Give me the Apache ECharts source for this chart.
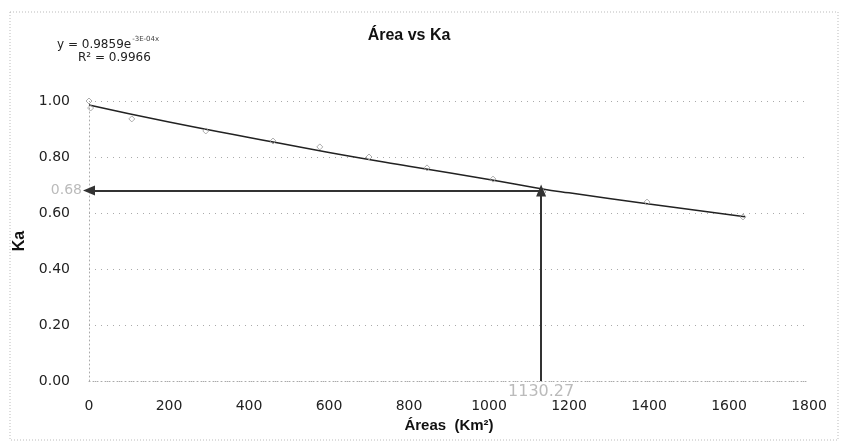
<!DOCTYPE html>
<html><head><meta charset="utf-8">
<script src="https://cdn.jsdelivr.net/npm/echarts@6/dist/echarts.min.js"></script>
<style>html,body{margin:0;padding:0;background:#fff}#c{width:845px;height:445px}</style>
</head><body><div id="c"></div>
<script>
// Observed data points (Área km², Ka)
const areas = [0, 4, 107, 292, 460, 577, 700, 845, 1010, 1135, 1395, 1635];
const kaValues = [1.00, 0.975, 0.936, 0.893, 0.857, 0.836, 0.800, 0.761, 0.721, 0.675, 0.639, 0.586];
// Exponential trend line
const trendX = [0, 200, 400, 600, 800, 1000, 1130.27, 1200, 1400, 1640];
const trendY = [0.986, 0.925, 0.870, 0.816, 0.767, 0.720, 0.687, 0.672, 0.632, 0.587];
// Reading arrows
const readX = 1130.27;
const readY = 0.68;
const xTicks = [0, 200, 400, 600, 800, 1000, 1200, 1400, 1600, 1800];
const yTicks = [0, 0.2, 0.4, 0.6, 0.8, 1.0];

const chart = echarts.init(document.getElementById('c'));
const tickFont = {fontFamily: 'DejaVu Sans', fontSize: 14, color: '#222'};
chart.setOption({
  animation: false,
  backgroundColor: '#fff',
  title: {
    text: 'Área vs Ka', left: 404, top: 23, textAlign: 'center',
    textStyle: {fontFamily: 'Liberation Sans', fontWeight: 'bold', fontSize: 16, color: '#111'}
  },
  graphic: [
    {type: 'rect', shape: {x: 10, y: 12, width: 828, height: 428}, silent: true,
     style: {fill: 'none', stroke: '#bbb', lineWidth: 1, lineDash: [1, 2]}},
    {type: 'text', left: 57, top: 36, style: {
      text: '{a|y = 0.9859e}{s|-3E-04x}', rich: {
        a: {fontFamily: 'DejaVu Sans', fontSize: 12, fill: '#222', verticalAlign: 'bottom'},
        s: {fontFamily: 'DejaVu Sans', fontSize: 7, fill: '#444', verticalAlign: 'top', padding: [0,0,8,1]}
      }}},
    {type: 'text', left: 78, top: 52, style: {
      text: 'R² = 0.9966', fontFamily: 'DejaVu Sans', fontSize: 12, fill: '#222'}}
  ],
  grid: {left: 89, right: 36, top: 101, bottom: 64},
  xAxis: {
    type: 'value', min: 0, max: 1800, interval: 200,
    name: 'Áreas  (Km²)', nameLocation: 'middle', nameGap: 26,
    nameTextStyle: {fontFamily: 'Liberation Sans', fontWeight: 'bold', fontSize: 15, color: '#111'},
    axisLine: {lineStyle: {color: '#aaa', type: [1, 3]}},
    axisTick: {show: false},
    splitLine: {show: false},
    axisLabel: Object.assign({margin: 18, formatter: v => xTicks.includes(v) ? String(v) : ''}, tickFont)
  },
  yAxis: {
    type: 'value', min: 0, max: 1.0, interval: 0.2,
    name: 'Ka', nameLocation: 'middle', nameGap: 56,
    nameTextStyle: {fontFamily: 'Liberation Sans', fontWeight: 'bold', fontSize: 16, color: '#111'},
    axisLine: {show: true, lineStyle: {color: '#aaa', type: [1, 3]}},
    axisTick: {show: false},
    splitLine: {show: true, lineStyle: {color: '#aaa', type: [1, 5]}},
    axisLabel: Object.assign({margin: 19, formatter: v => yTicks.some(t => Math.abs(t - v) < 1e-9) ? v.toFixed(2) : ''}, tickFont)
  },
  series: [
    {
      type: 'line', name: 'trend', data: trendX.map((x, i) => [x, trendY[i]]),
      smooth: true, showSymbol: false, lineStyle: {color: '#222', width: 1.5}, z: 3
    },
    {
      type: 'scatter', name: 'Ka', data: areas.map((x, i) => [x, kaValues[i]]),
      symbol: 'diamond', symbolSize: 6,
      itemStyle: {color: 'rgba(0,0,0,0)', borderColor: '#999', borderWidth: 1}, z: 4,
      markLine: {
        silent: true, symbol: ['none', 'triangle'], symbolSize: [10, 12],
        label: {show: false},
        lineStyle: {color: '#333', width: 2, type: 'solid'},
        data: [
          [{coord: [readX, 0]}, {coord: [readX, readY]}],
          [{coord: [readX, readY]}, {coord: [0, readY]}]
        ]
      },
      markPoint: {
        symbol: 'circle', symbolSize: 0,
        data: [
          {coord: [0, readY], label: {show: true, position: 'left', distance: 7, formatter: String(readY),
            fontFamily: 'DejaVu Sans', fontSize: 14, color: '#bbb'}},
          {coord: [readX, 0], label: {show: true, position: 'bottom', distance: 3, formatter: String(readX),
            fontFamily: 'DejaVu Sans', fontSize: 16, color: '#bbb'}}
        ]
      }
    }
  ]
});
</script></body></html>
